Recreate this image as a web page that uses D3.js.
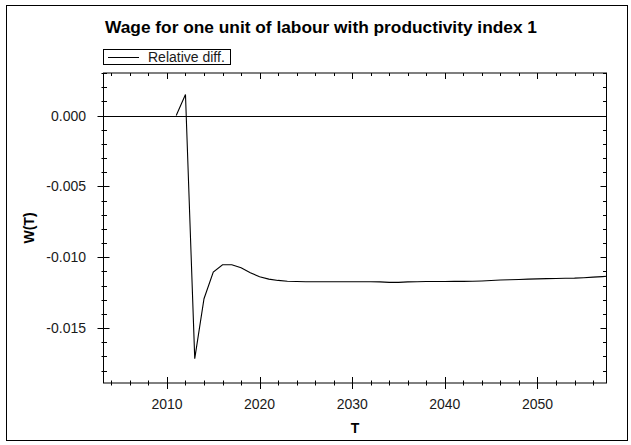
<!DOCTYPE html>
<html>
<head>
<meta charset="utf-8">
<script src="https://cdn.jsdelivr.net/npm/d3@7"></script>
<style>
  html, body { margin: 0; padding: 0; background: #fff; }
  svg { display: block; }
</style>
</head>
<body>
<svg id="chart" width="631" height="445"></svg>
<script>
// ---- data ----
const title = "Wage for one unit of labour with productivity index 1";
const seriesName = "Relative diff.";
const xLabel = "T";
const yLabel = "W(T)";
const years = d3.range(2011, 2059);
const relDiff = [
  0.00000, 0.00148, -0.01716, -0.01293, -0.01105, -0.01053, -0.01053, -0.01075,
  -0.01110, -0.01138, -0.01155, -0.01164, -0.01170, -0.01172, -0.01173, -0.01173,
  -0.01173, -0.01173, -0.01173, -0.01173, -0.01173, -0.01173, -0.01174, -0.01178,
  -0.01178, -0.01174, -0.01173, -0.01172, -0.01172, -0.01172, -0.01171, -0.01171,
  -0.01170, -0.01168, -0.01165, -0.01161, -0.01159, -0.01157, -0.01155, -0.01153,
  -0.01151, -0.01150, -0.01149, -0.01148, -0.01145, -0.01141, -0.01137, -0.01133
];
const xMajorTicks = [2010, 2020, 2030, 2040, 2050];
const yMajorTicks = [0.000, -0.005, -0.010, -0.015];
const xDomain = [2003.15, 2057.45];
const yDomain = [-0.01888, 0.00300];

// ---- layout ----
const svg = d3.select("#chart");
const L = 103.5, R = 606.5, T = 73, B = 383;
const x = d3.scaleLinear().domain(xDomain).range([L, R]);
const y = d3.scaleLinear().domain(yDomain).range([B, T]);
const font = "Arial, 'Liberation Sans', sans-serif";
const txt = "#1a1a1a";

// outer frame
svg.append("rect").attr("x", 6.5).attr("y", 5.5).attr("width", 621).attr("height", 435)
  .attr("fill", "none").attr("stroke", "#000").attr("stroke-width", 1);

// title
svg.append("text").attr("x", 105).attr("y", 33)
  .attr("font-family", font).attr("font-weight", "bold").attr("font-size", 16.5)
  .attr("textLength", 432).attr("lengthAdjust", "spacingAndGlyphs")
  .attr("fill", "#000").text(title);

// legend
const lg = svg.append("g");
lg.append("rect").attr("x", 103.5).attr("y", 49.5).attr("width", 127).attr("height", 15)
  .attr("fill", "#fff").attr("stroke", "#000");
lg.append("line").attr("x1", 108).attr("x2", 139).attr("y1", 57.5).attr("y2", 57.5)
  .attr("stroke", "#000");
lg.append("text").attr("x", 148).attr("y", 62).attr("font-family", font)
  .attr("font-size", 14).attr("fill", txt).text(seriesName);

// clip
svg.append("clipPath").attr("id", "clip").append("rect")
  .attr("x", L).attr("y", T).attr("width", R - L).attr("height", B - T);

// zero line
svg.append("line").attr("x1", L).attr("x2", R).attr("y1", Math.round(y(0)) + 0.5).attr("y2", Math.round(y(0)) + 0.5)
  .attr("stroke", "#000").attr("stroke-width", 1);

// data line
const line = d3.line().x((d, i) => x(years[i])).y(d => y(d));
svg.append("path").datum(relDiff).attr("clip-path", "url(#clip)")
  .attr("d", line).attr("fill", "none").attr("stroke", "#000").attr("stroke-width", 1.1);

// axes frame
svg.append("rect").attr("x", L).attr("y", T).attr("width", R - L).attr("height", B - T)
  .attr("fill", "none").attr("stroke", "#000").attr("stroke-width", 1);

const tg = svg.append("g").attr("stroke", "#000").attr("stroke-width", 1);
// x ticks
const xMinor = d3.range(2004, 2058, 2).filter(v => !xMajorTicks.includes(v));
xMinor.forEach(v => {
  const px = Math.round(x(v)) + 0.5;
  tg.append("line").attr("x1", px).attr("x2", px).attr("y1", B - 2.5).attr("y2", B + 2.5);
  tg.append("line").attr("x1", px).attr("x2", px).attr("y1", T).attr("y2", T + 3);
});
xMajorTicks.forEach(v => {
  const px = Math.round(x(v)) + 0.5;
  tg.append("line").attr("x1", px).attr("x2", px).attr("y1", B - 6).attr("y2", B + 6);
  tg.append("line").attr("x1", px).attr("x2", px).attr("y1", T).attr("y2", T + 6);
});
// y ticks
const yMinor = d3.range(-18, 4, 1).map(v => v / 1000).filter(v => !yMajorTicks.some(m => Math.abs(m - v) < 1e-9));
yMinor.forEach(v => {
  const py = Math.round(y(v)) + 0.5;
  tg.append("line").attr("x1", L - 2).attr("x2", L + 3.5).attr("y1", py).attr("y2", py);
  tg.append("line").attr("x1", R - 3.5).attr("x2", R).attr("y1", py).attr("y2", py);
});
yMajorTicks.forEach(v => {
  const py = Math.round(y(v)) + 0.5;
  tg.append("line").attr("x1", L - 6).attr("x2", L + 6).attr("y1", py).attr("y2", py);
  tg.append("line").attr("x1", R - 6).attr("x2", R).attr("y1", py).attr("y2", py);
});

// tick labels
svg.append("g").selectAll("text").data(xMajorTicks).join("text")
  .attr("x", d => x(d)).attr("y", 408.5).attr("text-anchor", "middle")
  .attr("font-family", font).attr("font-size", 14).attr("fill", txt)
  .text(d => d);
svg.append("g").selectAll("text").data(yMajorTicks).join("text")
  .attr("x", 86).attr("y", d => y(d) + 5).attr("text-anchor", "end")
  .attr("font-family", font).attr("font-size", 14).attr("fill", txt)
  .text(d => d3.format(".3f")(d).replace("−", "-"));

// axis titles
svg.append("text").attr("x", 355).attr("y", 432.5).attr("text-anchor", "middle")
  .attr("font-family", font).attr("font-weight", "bold").attr("font-size", 14)
  .attr("fill", "#000").text(xLabel);
svg.append("text").attr("transform", "translate(34,228) rotate(-90)")
  .attr("text-anchor", "middle").attr("font-family", font).attr("font-weight", "bold")
  .attr("font-size", 14).attr("fill", "#000").text(yLabel);
</script>
</body>
</html>
